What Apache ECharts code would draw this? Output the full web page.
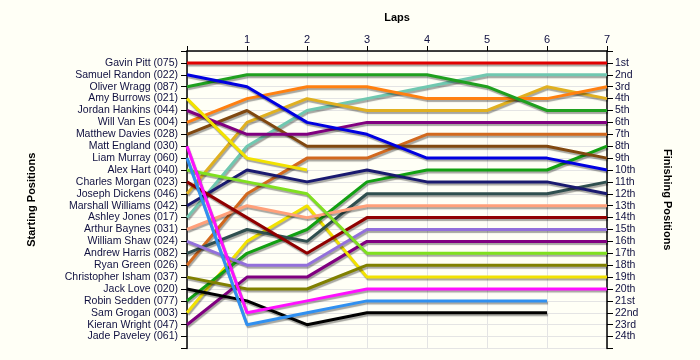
<!DOCTYPE html>
<html>
<head>
<meta charset="utf-8">
<script src="https://cdn.jsdelivr.net/npm/echarts@6/dist/echarts.min.js"></script>
<style>
html,body{margin:0;padding:0;background:#fffff6;}
#chart{width:700px;height:360px;}
</style>
</head>
<body>
<div id="chart"></div>
<script>
// ---- data ----
const laps = [0, 1, 2, 3, 4, 5, 6, 7];
const lapLabels = ['', '1', '2', '3', '4', '5', '6', '7'];
const startNames = [
  'Gavin Pitt (075)', 'Samuel Randon (022)', 'Oliver Wragg (087)', 'Amy Burrows (021)',
  'Jordan Hankins (044)', 'Will Van Es (004)', 'Matthew Davies (028)', 'Matt England (030)',
  'Liam Murray (060)', 'Alex Hart (040)', 'Charles Morgan (023)', 'Joseph Dickens (046)',
  'Marshall Williams (042)', 'Ashley Jones (017)', 'Arthur Baynes (031)', 'William Shaw (024)',
  'Andrew Harris (082)', 'Ryan Green (026)', 'Christopher Isham (037)', 'Jack Love (020)',
  'Robin Sedden (077)', 'Sam Grogan (003)', 'Kieran Wright (047)', 'Jade Paveley (061)'
];
const finishLabels = ['1st','2nd','3rd','4th','5th','6th','7th','8th','9th','10th','11th','12th',
  '13th','14th','15th','16th','17th','18th','19th','20th','21st','22nd','23rd','24th'];

// positions per lap (index = lap number)
const gavinPitt       = [1, 1, 1, 1, 1, 1, 1, 1];
const samuelRandon    = [2, 3, 6, 7, 9, 9, 9, 10];
const oliverWragg     = [3, 2, 2, 2, 2, 3, 5, 5];
const amyBurrows      = [4, 9, 10];
const jordanHankins   = [5, 7, 7, 6, 6, 6, 6, 6];
const willVanEs       = [6, 4, 3, 3, 4, 4, 4, 3];
const matthewDavies   = [7, 5, 8, 8, 8, 8, 8, 9];
const mattEngland     = [8, 22, 21, 20, 20, 20, 20, 20];
const liamMurray      = [9, 23, 22, 21, 21, 21, 21];
const alexHart        = [10, 11, 12, 17, 17, 17, 17, 17];
const charlesMorgan   = [11, 14, 17, 14, 14, 14, 14, 14];
const josephDickens   = [12, 6, 4, 5, 5, 5, 3, 4];
const marshallWilliams= [13, 10, 11, 10, 11, 11, 11, 12];
const ashleyJones     = [14, 8, 5, 4, 3, 2, 2, 2];
const arthurBaynes    = [15, 13, 14, 13, 13, 13, 13, 13];
const williamShaw     = [16, 18, 18, 15, 15, 15, 15, 15];
const andrewHarris    = [17, 15, 16, 12, 12, 12, 12, 11];
const ryanGreen       = [18, 12, 9, 9, 7, 7, 7, 7];
const christopherIsham= [19, 20, 20, 18, 18, 18, 18, 18];
const jackLove        = [20, 21, 23, 22, 22, 22, 22];
const robinSedden     = [21, 17, 15, 11, 10, 10, 10, 8];
const samGrogan       = [22, 16, 13, 19, 19, 19, 19, 19];
const kieranWright    = [23, 19, 19, 16, 16, 16, 16, 16];
const jadePaveley     = [];

const drivers = [gavinPitt, samuelRandon, oliverWragg, amyBurrows, jordanHankins, willVanEs,
  matthewDavies, mattEngland, liamMurray, alexHart, charlesMorgan, josephDickens,
  marshallWilliams, ashleyJones, arthurBaynes, williamShaw, andrewHarris, ryanGreen,
  christopherIsham, jackLove, robinSedden, samGrogan, kieranWright, jadePaveley];

// ---- styles ----
const colors = ['#e00000', '#0000e0', '#1fa01f', '#f2e200', '#800080', '#ff8010',
  '#804810', '#ff10ff', '#3090f0', '#80e020', '#900000', '#e0b020',
  '#1a1a70', '#70c8b0', '#ffa07a', '#9370db', '#2f4f4f', '#d2691e',
  '#808000', '#000000', '#12a012', '#f2e200', '#800080', '#888888'];

const labelColor = '#101040';
const font = 'Liberation Sans, Arial, sans-serif';

const series = drivers.map((pos, i) => ({
  type: 'line',
  name: startNames[i],
  data: pos.map((p, k) => [laps[k], p]),
  showSymbol: false,
  symbol: 'none',
  silent: true,
  yAxisIndex: 0,
  lineStyle: {
    color: colors[i], width: 3,
    shadowColor: 'rgba(0,0,0,0.35)', shadowOffsetX: 1, shadowOffsetY: 2, shadowBlur: 1
  },
  z: 2 + (24 - i) * 0.01
}));

const chart = echarts.init(document.getElementById('chart'), null, {renderer: 'canvas'});
chart.setOption({
  backgroundColor: '#fffff6',
  animation: false,
  grid: {left: 187, right: 93, top: 51, bottom: 11.5},
  xAxis: {
    type: 'value', position: 'top', min: 0, max: 7, interval: 1,
    name: 'Laps', nameLocation: 'middle', nameGap: 28,
    nameTextStyle: {fontFamily: font, fontSize: 11, fontWeight: 'bold', color: '#000'},
    axisLine: {lineStyle: {color: '#000', width: 1.5}},
    axisTick: {show: true, length: 5, lineStyle: {color: '#000'}},
    axisLabel: {fontFamily: font, fontSize: 11, color: labelColor, margin: 6,
      formatter: v => lapLabels[v] || ''},
    splitLine: {show: true, lineStyle: {color: '#e4e4e4', width: 1}}
  },
  yAxis: [{
    type: 'value', position: 'left', min: 0, max: 25, interval: 1, inverse: true,
    name: 'Starting Positions', nameLocation: 'middle', nameGap: 150, nameRotate: 90,
    nameTextStyle: {fontFamily: font, fontSize: 11, fontWeight: 'bold', color: '#000'},
    axisLine: {show: true, lineStyle: {color: '#000', width: 1.5}},
    axisTick: {show: true, length: 6, lineStyle: {color: '#000'}},
    axisLabel: {fontFamily: font, fontSize: 10.5, color: labelColor, margin: 9,
      formatter: v => (v >= 1 && v <= 24) ? startNames[v - 1] : ''},
    splitLine: {show: true, lineStyle: {color: '#e4e4e4', width: 1}}
  }, {
    type: 'value', position: 'right', min: 0, max: 25, interval: 1, inverse: true,
    name: 'Finishing Positions', nameLocation: 'middle', nameGap: 55, nameRotate: -90,
    nameTextStyle: {fontFamily: font, fontSize: 11, fontWeight: 'bold', color: '#000'},
    axisLine: {show: true, lineStyle: {color: '#000', width: 1.5}},
    axisTick: {show: true, length: 6, lineStyle: {color: '#000'}},
    axisLabel: {fontFamily: font, fontSize: 10.5, color: labelColor, margin: 8,
      formatter: v => (v >= 1 && v <= 24) ? finishLabels[v - 1] : ''},
    splitLine: {show: false}
  }],
  series: series
});
</script>
</body>
</html>
